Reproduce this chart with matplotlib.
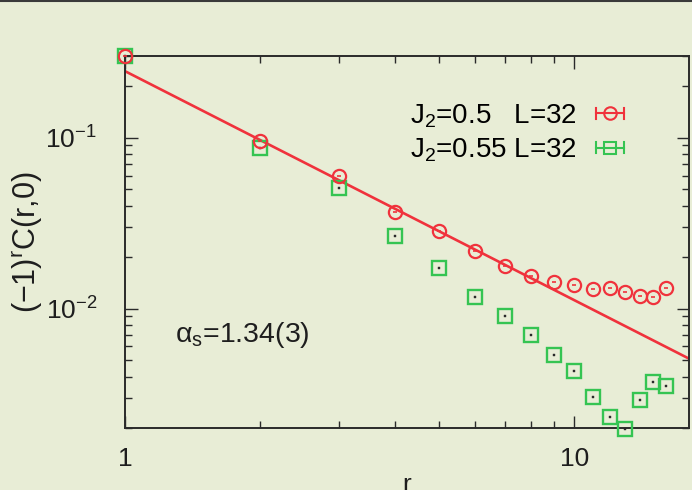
import numpy as np
import matplotlib
matplotlib.use("Agg")
import matplotlib.pyplot as plt
from matplotlib.lines import Line2D
from matplotlib.legend_handler import HandlerBase
from matplotlib.ticker import LogLocator, FixedLocator, NullFormatter

plt.rcParams["font.family"] = ["Liberation Sans", "DejaVu Sans"]
plt.rcParams["mathtext.fontset"] = "custom"
plt.rcParams["mathtext.rm"] = "Liberation Sans"
plt.rcParams["mathtext.it"] = "Liberation Sans:italic"
plt.rcParams["mathtext.sf"] = "Liberation Sans"

# correlation data
r = np.arange(1, 17)
c_j050 = [0.30, 0.096, 0.060, 0.0366, 0.0283, 0.0216, 0.0178, 0.01545,
          0.0143, 0.01365, 0.0130, 0.0132, 0.01256, 0.0118, 0.01164, 0.01327]
c_j055 = [0.30, 0.0875, 0.0508, 0.0267, 0.0173, 0.0117, 0.00902, 0.00698,
          0.00538, 0.00434, 0.00303, 0.00231, 0.00198, 0.00291, 0.00371, 0.00351]

# power-law fit  C = A * r^-alpha
fit_amp = 0.245
fit_alpha = 1.34
fit_r = [1.0, 18.0]

labels = ["J$_2$=0.5   L=32", "J$_2$=0.55 L=32"]

RED = "#f0323c"
GREEN = "#35c452"
BG = "#e8edd6"
INK = "#2a2a2a"
TXT = "#1e1e1e"


class ErrorbarKey(HandlerBase):
    # gnuplot-style key sample: |--o--|
    def create_artists(self, legend, orig_handle, xdescent, ydescent,
                       width, height, fontsize, trans):
        col = orig_handle.get_markeredgecolor()
        y = height / 2 - ydescent
        x0, x1 = -xdescent, width - xdescent
        xm = (x0 + x1) / 2
        cap = height * 0.28
        arts = [
            Line2D([x0, x1], [y, y], color=col, lw=1.5),
            Line2D([x0, x0], [y - cap, y + cap], color=col, lw=1.5),
            Line2D([x1, x1], [y - cap, y + cap], color=col, lw=1.5),
            Line2D([xm], [y], marker=orig_handle.get_marker(), ms=9,
                   mfc="none", mec=col, mew=1.5, ls="none"),
        ]
        for a in arts:
            a.set_transform(trans)
        return arts


fig = plt.figure(figsize=(6.92, 4.90), dpi=100, facecolor=BG)
ax = fig.add_axes([0.1806, 0.1265, 0.815, 0.759])
ax.set_facecolor(BG)

fit_c = [fit_amp * x ** (-fit_alpha) for x in fit_r]
ax.plot(fit_r, fit_c, color=RED, lw=1.9, zorder=2)

h1, = ax.plot(r, c_j050, ls="none", marker="o", ms=9.5, mfc="none",
              mec=RED, mew=1.6, clip_on=False, zorder=4)
ax.plot(r, c_j050, ls="none", marker="_", ms=3.5, mec=RED, mew=1.2,
        clip_on=False, zorder=4)
h2, = ax.plot(r, c_j055, ls="none", marker="s", ms=9.5, mfc="none",
              mec=GREEN, mew=1.7, clip_on=False, zorder=3)
ax.plot(r, c_j055, ls="none", marker="s", ms=1.5, mfc=INK, mec=INK,
        mew=0.3, clip_on=False, zorder=3)

ax.set_xscale("log")
ax.set_yscale("log")
ax.set_xlim(1, 18)
ax.set_ylim(0.002, 0.30)

ax.xaxis.set_major_locator(FixedLocator([1, 10]))
ax.set_xticklabels(["1", "10"])
ax.xaxis.set_minor_locator(LogLocator(base=10, subs=np.arange(2, 10)))
ax.xaxis.set_minor_formatter(NullFormatter())
ax.yaxis.set_major_locator(FixedLocator([0.01, 0.1]))
ax.set_yticklabels(["$\\mathdefault{10^{-2}}$", "$\\mathdefault{10^{-1}}$"])
ax.yaxis.set_minor_locator(LogLocator(base=10, subs=np.arange(2, 10)))
ax.yaxis.set_minor_formatter(NullFormatter())

ax.tick_params(which="both", direction="in", top=True, right=True,
               color=INK, labelsize=19, labelcolor=TXT)
ax.tick_params(which="major", length=9, width=1.0, pad=14)
ax.tick_params(which="minor", length=5, width=1.0)
ax.tick_params(axis="y", which="major", pad=20)
for s in ax.spines.values():
    s.set_color(INK)
    s.set_linewidth(1.4)

ax.set_xlabel("r", fontsize=19, labelpad=1, color=TXT)
ax.set_ylabel("(−1)$^\\mathregular{r}$C(r,0)", fontsize=22, labelpad=0,
              color=TXT)

ax.text(0.089, 0.25, "α$_\\mathregular{s}$=1.34(3)", transform=ax.transAxes,
        fontsize=20.5, va="center", ha="left", color=TXT)

ax.legend([h1, h2], labels, handler_map={Line2D: ErrorbarKey()},
          loc="upper right", bbox_to_anchor=(0.885, 0.876), frameon=False,
          fontsize=20, markerfirst=False, handlelength=1.0, handletextpad=0.7,
          labelspacing=0.25, borderpad=0, borderaxespad=0)

# thin rule along the top edge of the figure
fig.add_artist(Line2D([0, 1], [0.998, 0.998], transform=fig.transFigure,
                      color="#3a3a3a", lw=1.5))

fig.savefig("out.png", dpi=100, facecolor=BG)
